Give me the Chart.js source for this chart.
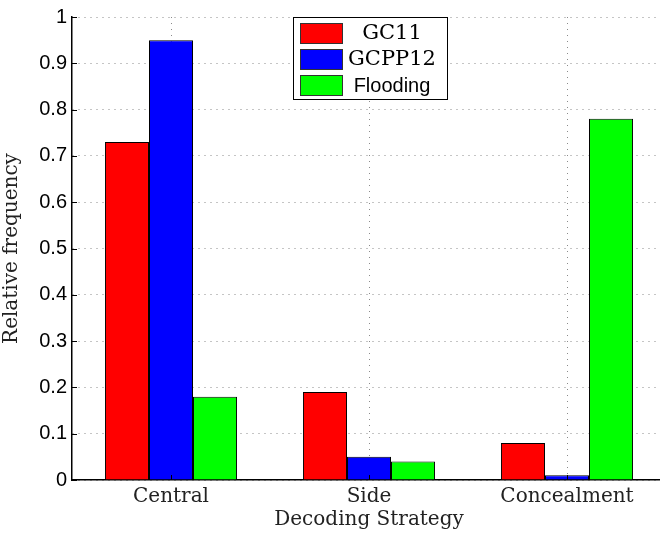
<!DOCTYPE html>
<html lang="en">
<head>
  <meta charset="UTF-8" />
  <title>Relative frequency by decoding strategy</title>
  <script src="https://cdn.jsdelivr.net/npm/chart.js"></script>
  <style>
    html, body {
      margin: 0;
      padding: 0;
      background: #fff;
      overflow: hidden;
    }
    #chart-container {
      width: 666px;
      height: 535px;
    }
  </style>
</head>
<body>
  <div id="chart-container">
    <canvas id="freqChart" width="666" height="535"></canvas>
  </div>

  <script>
    // Data
    const categories = ["Central", "Side", "Concealment"];
    const seriesNames = ["GC11", "GCPP12", "Flooding"];
    const gc11 = [0.73, 0.19, 0.08];
    const gcpp12 = [0.95, 0.05, 0.01];
    const flooding = [0.18, 0.04, 0.78];
    const seriesColors = ["#ff0000", "#0000ff", "#00ff00"];

    const serif = "'DejaVu Serif', serif";
    const sans = "'Liberation Sans', Arial, sans-serif";

    // Legend drawn by hand, because the labels mix fonts
    const legendFonts = ["21px " + serif, "21px " + serif, "20px " + sans];
    const boxLegend = {
      id: "boxLegend",
      afterDraw(chart) {
        const ctx = chart.ctx;
        const x = 293, y = 17, w = 154, h = 82;
        ctx.save();
        ctx.fillStyle = "#fff";
        ctx.fillRect(x, y, w, h);
        ctx.strokeStyle = "#000";
        ctx.lineWidth = 1;
        ctx.strokeRect(x + 0.5, y + 0.5, w, h);
        chart.data.datasets.forEach((ds, i) => {
          const cy = y + 16 + i * 26;
          ctx.fillStyle = ds.backgroundColor;
          ctx.fillRect(x + 7, cy - 10, 42, 20);
          ctx.strokeStyle = "#333";
          ctx.strokeRect(x + 7.5, cy - 9.5, 42, 20);
          ctx.fillStyle = "#000";
          ctx.font = legendFonts[i];
          ctx.textAlign = "center";
          ctx.textBaseline = "middle";
          ctx.fillText(ds.label, x + 99, cy + 1);
        });
        ctx.restore();
      }
    };

    // Small inward tick marks like MATLAB axes
    const innerTicks = {
      id: "innerTicks",
      afterDatasetsDraw(chart) {
        const ctx = chart.ctx;
        const xs = chart.scales.x, ys = chart.scales.y;
        const area = chart.chartArea;
        ctx.save();
        ctx.strokeStyle = "#000";
        ctx.lineWidth = 1;
        ctx.beginPath();
        ys.ticks.forEach(t => {
          const py = Math.round(ys.getPixelForValue(t.value)) + 0.5;
          ctx.moveTo(area.left, py);
          ctx.lineTo(area.left + 5, py);
        });
        categories.forEach((c, i) => {
          const px = Math.round(xs.getPixelForValue(i)) + 0.5;
          ctx.moveTo(px, area.bottom);
          ctx.lineTo(px, area.bottom - 5);
        });
        ctx.stroke();
        ctx.restore();
      }
    };

    const ctx = document.getElementById("freqChart").getContext("2d");
    new Chart(ctx, {
      type: "bar",
      data: {
        labels: categories,
        datasets: [
          { label: seriesNames[0], data: gc11, backgroundColor: seriesColors[0] },
          { label: seriesNames[1], data: gcpp12, backgroundColor: seriesColors[1] },
          { label: seriesNames[2], data: flooding, backgroundColor: seriesColors[2] }
        ]
      },
      options: {
        responsive: false,
        animation: false,
        layout: { padding: { top: 12, right: 0, bottom: 0, left: 0 } },
        datasets: {
          bar: {
            borderColor: "#000",
            borderWidth: 1,
            barPercentage: 1,
            categoryPercentage: 0.667
          }
        },
        scales: {
          x: {
            offset: true,
            grid: { offset: false, color: "#8a8a8a", drawTicks: false },
            border: { display: true, color: "#000", width: 1.5, dash: [1, 5] },
            ticks: { color: "#222", padding: 5, font: { family: serif, size: 20 } },
            title: {
              display: true,
              text: "Decoding Strategy",
              color: "#222",
              font: { family: serif, size: 20 },
              padding: { top: 0, bottom: 3 }
            },
            afterFit(scale) { scale.height = 55; }
          },
          y: {
            min: 0,
            max: 1,
            grid: { color: "#8a8a8a", drawTicks: false },
            border: { display: true, color: "#000", width: 1.5, dash: [1, 5] },
            ticks: {
              stepSize: 0.1,
              color: "#000",
              padding: 5,
              font: { family: sans, size: 20 },
              callback: v => (v === 0 || v === 1) ? String(v) : v.toFixed(1)
            },
            title: {
              display: true,
              text: "Relative frequency",
              color: "#222",
              font: { family: serif, size: 20 },
              padding: { top: 0, bottom: 10 }
            },
            afterFit(scale) { scale.width = 72; }
          }
        },
        plugins: {
          legend: { display: false },
          tooltip: { enabled: false }
        }
      },
      plugins: [innerTicks, boxLegend]
    });
  </script>
</body>
</html>
